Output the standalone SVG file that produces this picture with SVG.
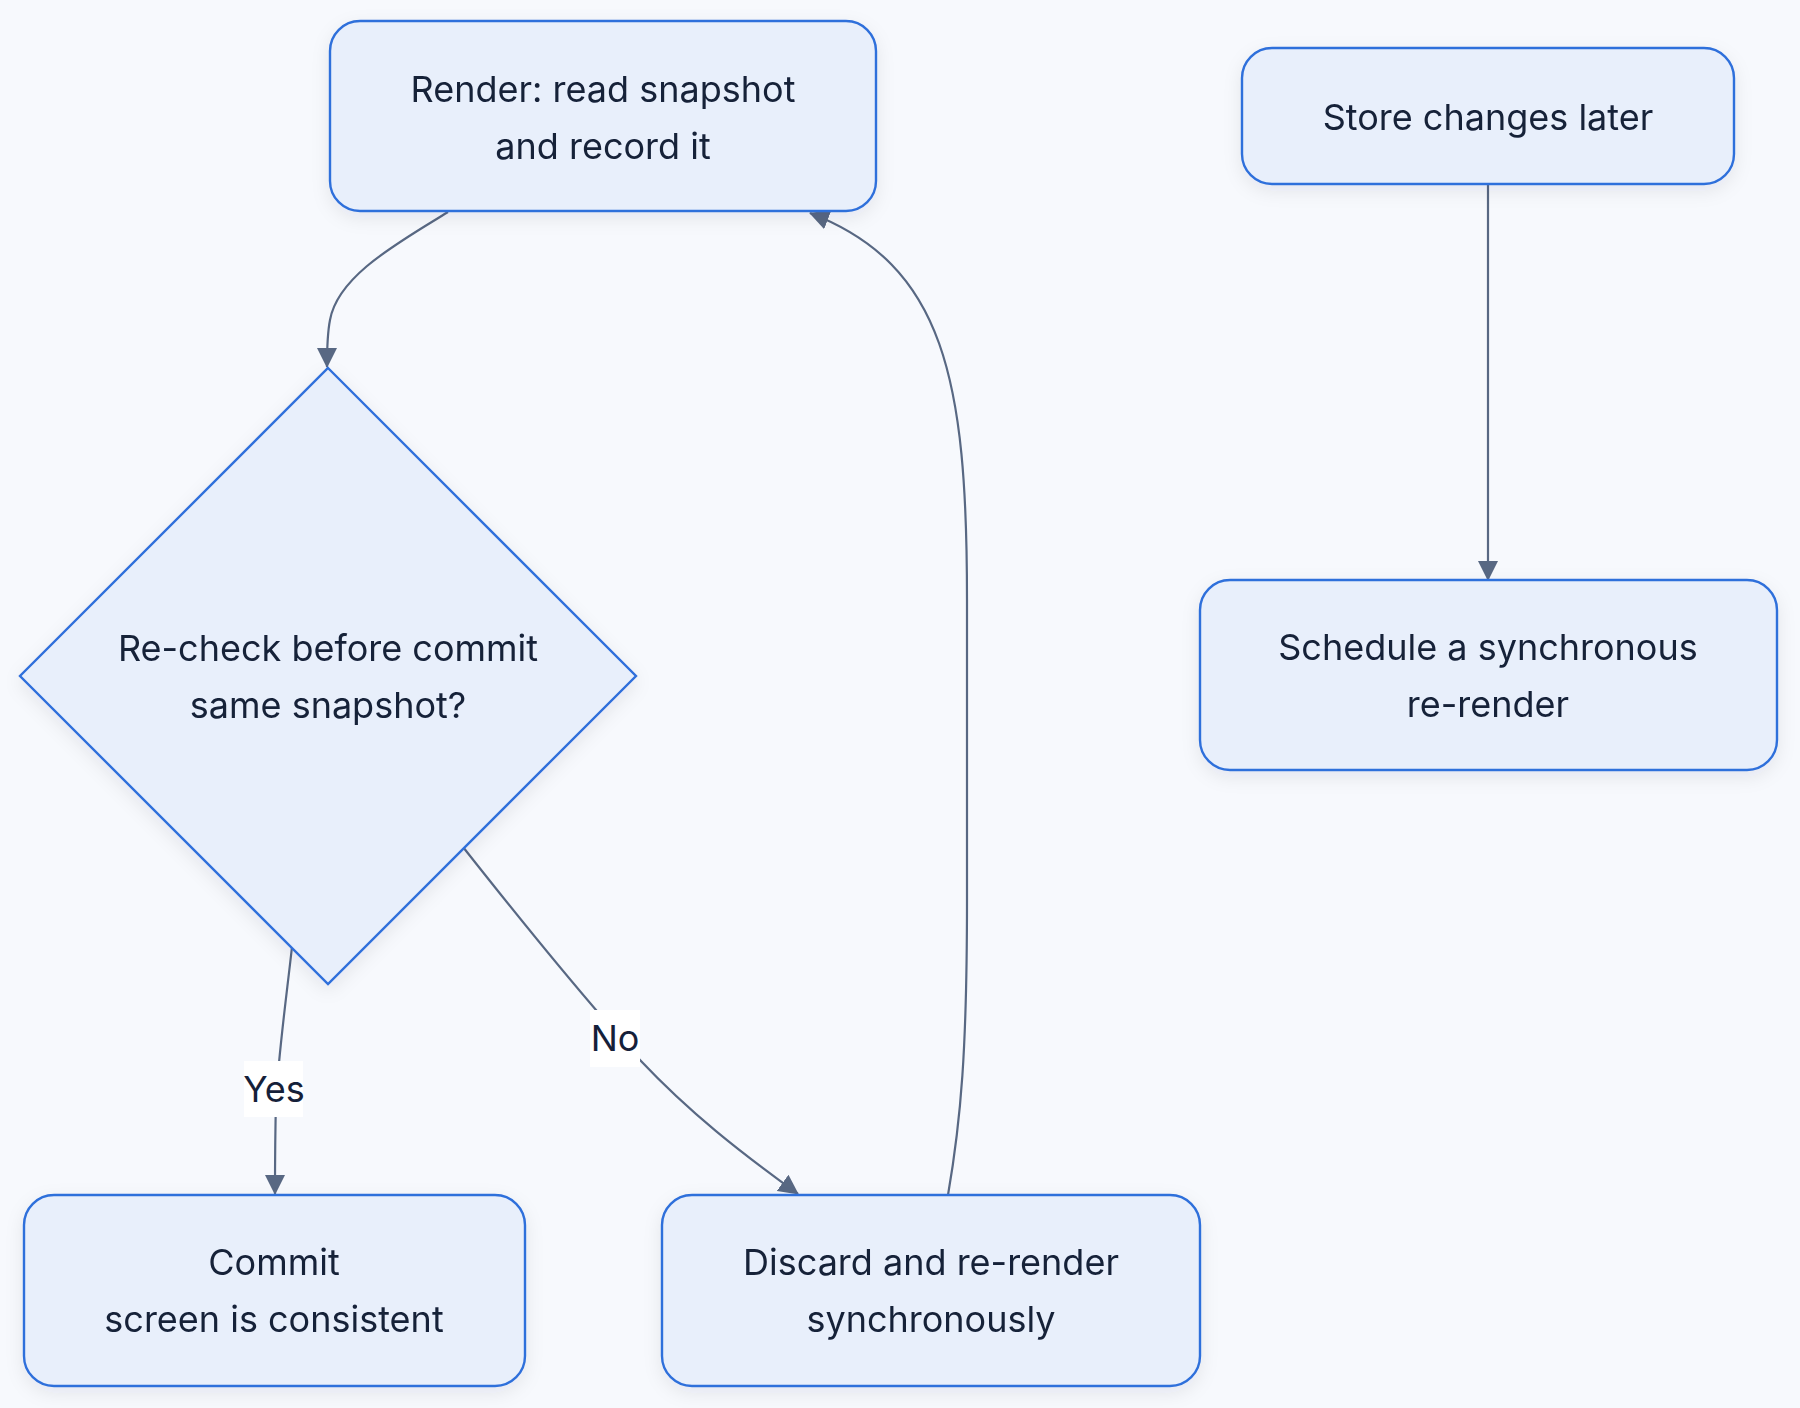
<svg xmlns="http://www.w3.org/2000/svg" width="1800" height="1408" viewBox="0 0 1800 1408">
<defs>
<style>
.node{fill:#e8effb;stroke:#2f6fdb;stroke-width:2.4}
.lbl{font-family:Inter,"Noto Sans","Liberation Sans",sans-serif;font-size:36px;fill:#152039;text-anchor:middle;dominant-baseline:central}
.edge{fill:none;stroke:#586883;stroke-width:2.2}
.elbg{fill:#ffffff}
</style>
<marker id="arr" viewBox="0 0 20 20" refX="19" refY="10" markerWidth="20" markerHeight="20" markerUnits="userSpaceOnUse" orient="auto">
<path d="M0,0 L20,10 L0,20 Z" fill="#586883"/>
</marker>
<filter id="sh" x="-20%" y="-20%" width="140%" height="150%">
<feDropShadow dx="0" dy="6" stdDeviation="9" flood-color="#1e2a45" flood-opacity="0.08"/>
</filter>
</defs>
<rect width="1800" height="1408" fill="#f7f9fd"/>
<g id="connectors">
<path class="edge" d="M448,212 C400,242 338,275 330,320 C327,335 327,350 327,367" marker-end="url(#arr)"/>
<path class="edge" d="M292,947 C286,1000 279,1050 276,1100 C275,1140 275,1170 275,1194" marker-end="url(#arr)"/>
<path class="edge" d="M463,847 C530,932 590,1005 640,1060 C690,1113 740,1152 798,1194" marker-end="url(#arr)"/>
<path class="edge" d="M948,1195 C961,1120 967,1050 967,900 L967,600 C967,380 945,265 810,213" marker-end="url(#arr)"/>
<path class="edge" d="M1488,184 L1488,580" marker-end="url(#arr)"/>
<rect class="elbg" x="244" y="1061" width="59" height="56"/>
<text class="lbl" x="274" y="1089">Yes</text>
<rect class="elbg" x="590" y="1010" width="50" height="57"/>
<text class="lbl" x="615" y="1038">No</text>
</g>
<g id="render" filter="url(#sh)">
<rect class="node" x="330" y="21" width="546" height="190" rx="30"/>
<text class="lbl" x="603" y="89">Render: read snapshot</text>
<text class="lbl" x="603" y="146">and record it</text>
</g>
<g id="store" filter="url(#sh)">
<rect class="node" x="1242" y="48" width="492" height="136" rx="30"/>
<text class="lbl" x="1488" y="117">Store changes later</text>
</g>
<g id="schedule" filter="url(#sh)">
<rect class="node" x="1200" y="580" width="577" height="190" rx="30"/>
<text class="lbl" x="1488" y="647">Schedule a synchronous</text>
<text class="lbl" x="1488" y="704">re-render</text>
</g>
<g id="decision" filter="url(#sh)">
<polygon class="node" points="328,368 636,676 328,984 20,676"/>
<text class="lbl" x="328" y="648">Re-check before commit</text>
<text class="lbl" x="328" y="705">same snapshot?</text>
</g>
<g id="commit" filter="url(#sh)">
<rect class="node" x="24" y="1195" width="501" height="191" rx="30"/>
<text class="lbl" x="274" y="1262">Commit</text>
<text class="lbl" x="274" y="1319">screen is consistent</text>
</g>
<g id="discard" filter="url(#sh)">
<rect class="node" x="662" y="1195" width="538" height="191" rx="30"/>
<text class="lbl" x="931" y="1262">Discard and re-render</text>
<text class="lbl" x="931" y="1319">synchronously</text>
</g>
</svg>
